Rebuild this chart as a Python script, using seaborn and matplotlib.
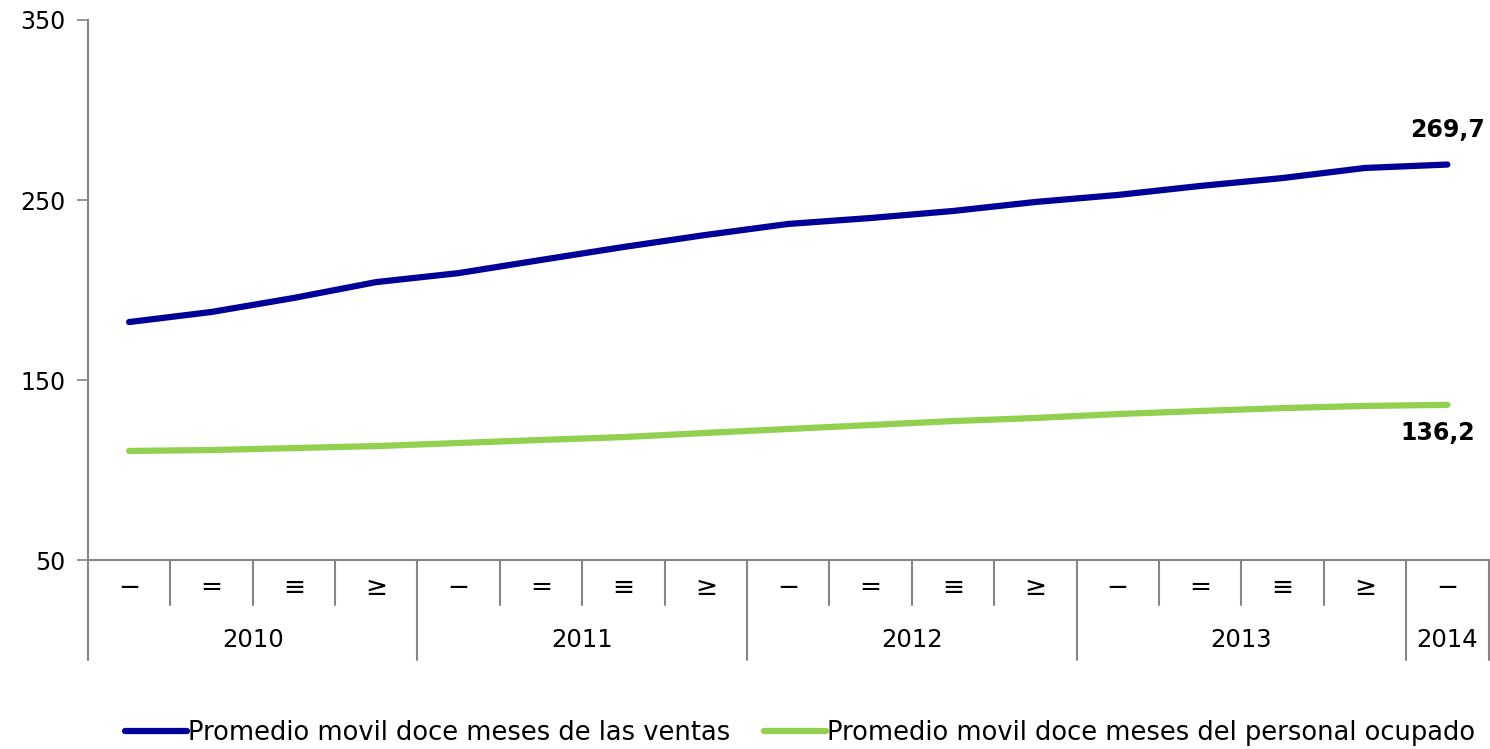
import pandas as pd
import seaborn as sns
import matplotlib.pyplot as plt

# datos
anios = ['2010', '2011', '2012', '2013', '2014']
trimestres = ['−', '=', '≡', '≥']
ventas = [182.2, 187.8, 195.6, 204.4, 209.4, 216.7, 223.9, 230.6, 236.7,
          240.0, 243.9, 248.9, 252.8, 257.8, 262.2, 267.8, 269.7]
personal = [110.6, 111.1, 112.2, 113.3, 115.0, 116.7, 118.3, 120.6, 122.8,
            125.0, 127.2, 128.9, 131.1, 132.8, 134.4, 135.6, 136.2]
nombres = ['Promedio movil doce meses de las ventas',
           'Promedio movil doce meses del personal ocupado']

n = len(ventas)
etiquetas_trim = [trimestres[i % 4] for i in range(n)]

df = pd.DataFrame({
    'pos': list(range(n)) * 2,
    'valor': ventas + personal,
    'serie': [nombres[0]] * n + [nombres[1]] * n,
})

sns.set_style('white')
plt.rcParams['font.family'] = ['DejaVu Sans']
plt.rcParams['text.color'] = 'black'
plt.rcParams['ytick.labelcolor'] = 'black'

fig = plt.figure(figsize=(14.9, 7.49), dpi=100)
ax = fig.add_axes([0.059, 0.2523, 0.94, 0.7210])

sns.lineplot(data=df, x='pos', y='valor', hue='serie',
             palette=['#000099', '#92D050'], linewidth=4.5, ax=ax,
             legend=False, solid_capstyle='round')

ax.set_xlim(-0.5, n - 0.5)
ax.set_ylim(50, 350)
ax.set_yticks([50, 150, 250, 350])
ax.tick_params(axis='y', labelsize=17, length=8, width=1.2, color='#868686',
               direction='out', left=True, pad=8)
ax.set_xticks([])
ax.set_xlabel('')
ax.set_ylabel('')

for s in ['top', 'right']:
    ax.spines[s].set_visible(False)
for s in ['left', 'bottom']:
    ax.spines[s].set_color('#868686')
    ax.spines[s].set_linewidth(1.5)

# eje de categorias en dos niveles
tr = ax.get_xaxis_transform()
for i in range(n):
    ax.text(i, -0.052, etiquetas_trim[i], transform=tr, ha='center',
            va='center', fontsize=19)
for i in range(n + 1):
    x = i - 0.5
    largo = -0.185 if (i % 4 == 0 or i == n) else -0.083
    ax.plot([x, x], [0, largo], transform=tr, color='#868686', lw=1.5,
            clip_on=False)
for k, a in enumerate(anios):
    ini = k * 4
    fin = min(ini + 4, n)
    ax.text((ini + fin - 1) / 2, -0.148, a, transform=tr, ha='center',
            va='center', fontsize=17.5)

# etiquetas de los ultimos valores
ax.annotate(f'{ventas[-1]:.1f}'.replace('.', ','), (n - 1, ventas[-1]),
            xytext=(0, 25), textcoords='offset points', ha='center',
            va='center', fontsize=17, fontweight='bold')
ax.annotate(f'{personal[-1]:.1f}'.replace('.', ','), (n - 1, personal[-1]),
            xytext=(-7, -20), textcoords='offset points', ha='center',
            va='center', fontsize=17, fontweight='bold')

# leyenda
handles = [plt.Line2D([], [], color=c, lw=4.5) for c in ['#000099', '#92D050']]
fig.legend(handles, nombres, loc='lower center', bbox_to_anchor=(0.537, -0.027),
           ncol=2, frameon=False, fontsize=18.5, handlelength=2.4,
           handletextpad=0.05, columnspacing=1.3)

plt.savefig('out.png', dpi=100)
